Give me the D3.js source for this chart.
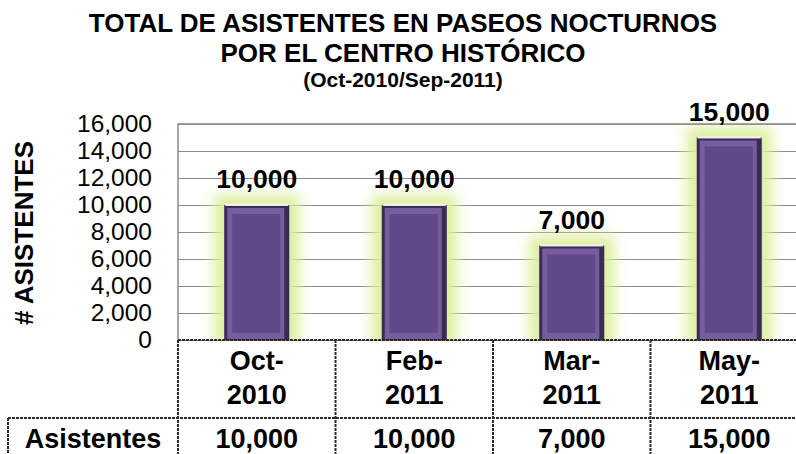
<!DOCTYPE html>
<html lang="es">
<head>
<meta charset="UTF-8">
<title>Total de asistentes en paseos nocturnos</title>
<script src="https://d3js.org/d3.v7.min.js"></script>
<style>
    body { margin: 0; background: #ffffff; }
    svg { display: block; font-family: "Liberation Sans", Arial, sans-serif; }
</style>
</head>
<body>
<div id="chart"></div>
<script>
// data
const months = ["Oct-2010", "Feb-2011", "Mar-2011", "May-2011"];
const asistentes = [10000, 10000, 7000, 15000];
const yTicks = [0, 2000, 4000, 6000, 8000, 10000, 12000, 14000, 16000];
const titleLines = ["TOTAL DE ASISTENTES EN PASEOS NOCTURNOS", "POR EL CENTRO HISTÓRICO"];
const subtitle = "(Oct-2010/Sep-2011)";
const rowLabel = "Asistentes";

const W = 796, H = 454;
const plot = { left: 178, top: 124, bottom: 340, right: 808 };

const svg = d3.select("#chart").append("svg")
    .attr("width", W)
    .attr("height", H);

const defs = svg.append("defs");

const glow = defs.append("filter")
    .attr("id", "glow")
    .attr("x", "-80%").attr("y", "-30%")
    .attr("width", "260%").attr("height", "160%");
glow.append("feMorphology").attr("in", "SourceAlpha").attr("operator", "dilate").attr("radius", 10).attr("result", "d");
glow.append("feGaussianBlur").attr("in", "d").attr("stdDeviation", 7).attr("result", "b");
glow.append("feFlood").attr("flood-color", "#dbef9c");
glow.append("feComposite").attr("in2", "b").attr("operator", "in");

defs.append("clipPath").attr("id", "plotClip")
    .append("rect")
    .attr("x", plot.left).attr("y", plot.top - 20)
    .attr("width", plot.right - plot.left).attr("height", plot.bottom - plot.top + 20);

const x = d3.scaleBand()
    .domain(months)
    .range([plot.left, plot.right])
    .paddingInner(0.587)
    .paddingOuter(0.2935);

const cell = d3.scaleBand()
    .domain(months)
    .range([plot.left, plot.right]);

const y = d3.scaleLinear()
    .domain([0, 16000])
    .range([plot.bottom, plot.top]);

// titles
svg.append("g").selectAll("text")
    .data(titleLines)
    .enter().append("text")
    .attr("x", 403)
    .attr("y", (d, i) => 32 + i * 30)
    .attr("text-anchor", "middle")
    .attr("font-size", 26)
    .attr("font-weight", "bold")
    .text(d => d);

svg.append("text")
    .attr("x", 403)
    .attr("y", 87)
    .attr("text-anchor", "middle")
    .attr("font-size", 21)
    .attr("font-weight", "bold")
    .text(subtitle);

svg.append("text")
    .attr("transform", "translate(33,233) rotate(-90)")
    .attr("text-anchor", "middle")
    .attr("font-size", 26)
    .attr("font-weight", "bold")
    .text("# ASISTENTES");

// grid
const grid = svg.append("g")
    .attr("transform", `translate(${plot.left},0)`)
    .call(d3.axisLeft(y).tickValues(yTicks).tickSize(-(plot.right - plot.left)).tickFormat(""));
grid.select(".domain").remove();
grid.selectAll("line").attr("stroke", "#8c8c8c").attr("stroke-width", 1);

// glow behind bars
svg.append("g")
    .attr("clip-path", "url(#plotClip)")
    .selectAll("rect")
    .data(asistentes)
    .enter().append("rect")
    .attr("x", (d, i) => x(months[i]))
    .attr("y", d => y(d))
    .attr("width", x.bandwidth())
    .attr("height", d => plot.bottom - y(d))
    .attr("fill", "#000")
    .attr("filter", "url(#glow)");

// plot border
svg.append("path")
    .attr("d", `M${plot.left},${plot.bottom}V${plot.top}H${plot.right}`)
    .attr("fill", "none")
    .attr("stroke", "#8a8a8a")
    .attr("stroke-width", 1.5);

// y tick labels
const yAxis = svg.append("g")
    .attr("transform", `translate(${plot.left},0)`)
    .call(d3.axisLeft(y).tickValues(yTicks).tickSize(0).tickPadding(26).tickFormat(d3.format(",")));
yAxis.select(".domain").remove();
yAxis.selectAll("text")
    .attr("font-family", "'Liberation Sans', Arial, sans-serif")
    .attr("font-size", 24.5)
    .attr("fill", "#000");

// bars
const bars = svg.append("g").selectAll("g")
    .data(asistentes)
    .enter().append("g")
    .attr("transform", (d, i) => `translate(${x(months[i])},0)`);

const bw = x.bandwidth();
bars.append("rect")
    .attr("x", 0).attr("y", d => y(d))
    .attr("width", bw).attr("height", d => plot.bottom - y(d))
    .attr("fill", "#3b2956");
bars.append("rect")
    .attr("x", 3).attr("y", d => y(d) + 3)
    .attr("width", bw - 8).attr("height", d => plot.bottom - y(d) - 4)
    .attr("fill", "#765d9e");
bars.append("rect")
    .attr("x", 8).attr("y", d => y(d) + 9)
    .attr("width", bw - 17).attr("height", d => plot.bottom - y(d) - 16)
    .attr("fill", "#614888");
bars.append("rect")
    .attr("x", 1).attr("y", d => y(d) - 1)
    .attr("width", bw - 2).attr("height", 2)
    .attr("fill", "#ffffff")
    .attr("opacity", 0.85);

// value labels
bars.append("text")
    .attr("x", bw / 2)
    .attr("y", d => y(d) - 17)
    .attr("text-anchor", "middle")
    .attr("font-size", 26.5)
    .attr("font-weight", "bold")
    .text(d => d3.format(",")(d));

// data table
const table = svg.append("g");
const lineStyle = sel => sel.attr("stroke", "#2b2b2b").attr("stroke-width", 2).attr("stroke-dasharray", "3,1");

table.append("line").attr("x1", plot.left).attr("x2", W).attr("y1", plot.bottom).attr("y2", plot.bottom).call(lineStyle);
table.append("line").attr("x1", 8).attr("x2", W).attr("y1", 418).attr("y2", 418).call(lineStyle);
table.append("line").attr("x1", 8).attr("x2", 8).attr("y1", 418).attr("y2", H).call(lineStyle);
table.append("line").attr("x1", plot.left).attr("x2", plot.left).attr("y1", plot.bottom).attr("y2", H).call(lineStyle);
table.selectAll(".vdiv")
    .data(months.slice(1))
    .enter().append("line")
    .attr("class", "vdiv")
    .attr("x1", d => cell(d)).attr("x2", d => cell(d))
    .attr("y1", plot.bottom).attr("y2", H)
    .call(lineStyle);

const cat = table.selectAll(".cat")
    .data(months)
    .enter().append("text")
    .attr("class", "cat")
    .attr("text-anchor", "middle")
    .attr("font-size", 27)
    .attr("font-weight", "bold");
cat.append("tspan")
    .attr("x", d => cell(d) + cell.bandwidth() / 2)
    .attr("y", 370)
    .text(d => d.split("-")[0] + "-");
cat.append("tspan")
    .attr("x", d => cell(d) + cell.bandwidth() / 2)
    .attr("y", 404)
    .text(d => d.split("-")[1]);

table.selectAll(".val")
    .data(asistentes)
    .enter().append("text")
    .attr("class", "val")
    .attr("x", (d, i) => cell(months[i]) + cell.bandwidth() / 2)
    .attr("y", 448)
    .attr("text-anchor", "middle")
    .attr("font-size", 27)
    .attr("font-weight", "bold")
    .text(d => d3.format(",")(d));

table.append("text")
    .attr("x", 93)
    .attr("y", 448)
    .attr("text-anchor", "middle")
    .attr("font-size", 27)
    .attr("font-weight", "bold")
    .text(rowLabel);
</script>
</body>
</html>
